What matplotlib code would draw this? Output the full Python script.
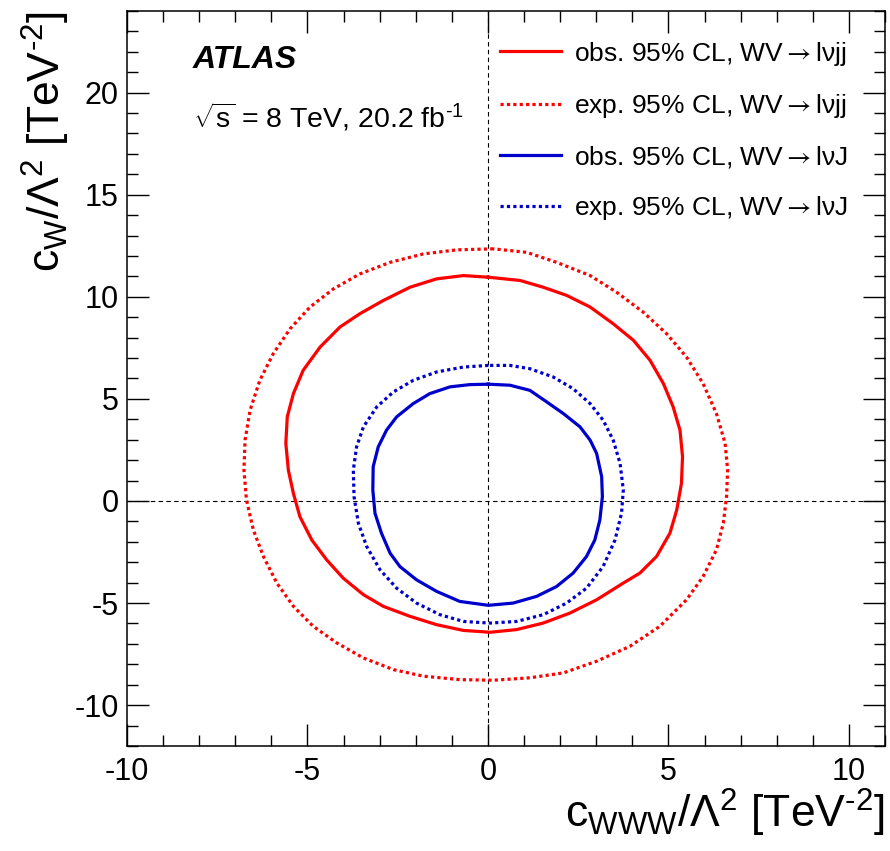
# ATLAS WV -> lvjj / lvJ: 95% CL contours in the (c_WWW, c_W) plane
import numpy as np
import matplotlib.pyplot as plt
from matplotlib.ticker import MultipleLocator

plt.rcParams['font.family'] = ['Liberation Sans', 'DejaVu Sans']
plt.rcParams['axes.unicode_minus'] = False
plt.rcParams['mathtext.fontset'] = 'custom'
plt.rcParams['mathtext.rm'] = 'Liberation Sans'
plt.rcParams['mathtext.it'] = 'Liberation Sans:italic'
plt.rcParams['mathtext.sf'] = 'STIXGeneral'

# contour points (c_WWW, c_W) in TeV^-2
obs_jj_x = [0.01, -0.68, -1.42, -2.16, -2.90, -3.55, -4.10, -4.65, -5.12, -5.39, -5.56, -5.60,
            -5.53, -5.39, -5.21, -4.88, -4.47, -4.01, -3.45, -2.90, -2.16, -1.42, -0.68, 0.06,
            0.79, 1.53, 2.27, 3.01, 3.75, 4.21, 4.67, 5.04, 5.23, 5.36, 5.39, 5.32, 5.13, 4.86,
            4.49, 4.03, 3.47, 2.83, 2.18, 1.53, 0.89]
obs_jj_y = [10.96, 11.04, 10.88, 10.47, 9.82, 9.17, 8.52, 7.54, 6.40, 5.26, 4.12, 2.82,
            1.51, 0.37, -0.77, -1.91, -2.88, -3.78, -4.59, -5.16, -5.65, -6.06, -6.34, -6.43,
            -6.30, -5.98, -5.49, -4.84, -4.02, -3.53, -2.72, -1.58, -0.44, 0.86, 2.17, 3.47, 4.61, 5.75,
            6.89, 7.87, 8.68, 9.50, 10.07, 10.47, 10.80]

exp_jj_x = [0.15, -0.87, -1.79, -2.71, -3.55, -4.28, -4.93, -5.48, -5.95, -6.32, -6.59, -6.73,
            -6.76, -6.69, -6.50, -6.22, -5.85, -5.39, -4.84, -4.19, -3.45, -2.62, -1.79, -0.78,
            0.15, 1.16, 2.09, 3.01, 3.93, 4.76, 5.50, 5.96, 6.33, 6.52, 6.61, 6.64, 6.57, 6.33,
            5.96, 5.50, 4.95, 4.30, 3.56, 2.83, 1.90, 1.07]
exp_jj_y = [12.35, 12.30, 12.10, 11.69, 11.12, 10.39, 9.50, 8.44, 7.21, 5.91, 4.45, 2.98,
            1.51, 0.05, -1.42, -2.72, -4.02, -5.16, -6.14, -6.95, -7.69, -8.26, -8.58, -8.75,
            -8.78, -8.66, -8.42, -7.85, -7.12, -6.14, -4.84, -3.70, -2.39, -1.09, 0.21, 1.51, 2.82, 4.28,
            5.75, 7.05, 8.19, 9.25, 10.23, 11.04, 11.69, 12.18]

obs_J_x = [0.01, -0.50, -1.05, -1.61, -2.07, -2.53, -2.81, -3.04, -3.18, -3.19, -3.13, -2.95,
           -2.71, -2.44, -1.98, -1.42, -0.78, 0.01, 0.70, 1.35, 1.90, 2.36, 2.73, 2.96,
           3.10, 3.17, 3.15, 3.01, 2.83, 2.55, 2.09, 1.63, 1.16, 0.61]
obs_J_y = [5.72, 5.70, 5.59, 5.26, 4.77, 4.12, 3.47, 2.65, 1.68, 0.54, -0.60, -1.58,
           -2.56, -3.21, -3.86, -4.43, -4.92, -5.11, -5.00, -4.67, -4.19, -3.53, -2.72, -1.91,
           -0.93, 0.21, 1.19, 2.33, 2.98, 3.63, 4.28, 4.85, 5.42, 5.67]

exp_J_x = [0.01, -0.68, -1.42, -2.07, -2.62, -3.08, -3.45, -3.64, -3.73, -3.71, -3.59, -3.36,
           -2.99, -2.53, -1.98, -1.33, -0.68, 0.06, 0.79, 1.53, 2.18, 2.73, 3.19, 3.52,
           3.70, 3.75, 3.66, 3.47, 3.19, 2.83, 2.36, 1.81, 1.16, 0.61]
exp_J_y = [6.64, 6.56, 6.32, 5.91, 5.34, 4.61, 3.63, 2.65, 1.51, 0.21, -1.09, -2.23,
           -3.37, -4.27, -5.00, -5.57, -5.90, -5.98, -5.90, -5.57, -5.00, -4.27, -3.21, -1.91,
           -0.60, 0.54, 1.84, 2.98, 3.96, 4.77, 5.50, 6.07, 6.48, 6.64]

arrow = r'$\mathsf{\rightarrow}$'
labels = ['obs. 95% CL, WV' + arrow + 'lνjj', 'exp. 95% CL, WV' + arrow + 'lνjj',
          'obs. 95% CL, WV' + arrow + 'lνJ', 'exp. 95% CL, WV' + arrow + 'lνJ']


def closed(a):
    return list(a) + [a[0]]


fig = plt.figure(figsize=(8.9, 8.51), dpi=100)
ax = fig.add_axes([0.1427, 0.1234, 0.8517, 0.8637])

ax.axhline(0, color='black', lw=0.8, dashes=(4, 3), zorder=1)
ax.axvline(0, color='black', lw=0.8, dashes=(4, 3), zorder=1)

dot = (0, (1.0, 1.0))
kw = dict(lw=2.3, solid_joinstyle='round', dash_joinstyle='round')
ax.plot(closed(obs_jj_x), closed(obs_jj_y), color='#ff0000', label=labels[0], **kw)
ax.plot(closed(exp_jj_x), closed(exp_jj_y), color='#ff0000', ls=dot, label=labels[1], **kw)
ax.plot(closed(obs_J_x), closed(obs_J_y), color='#0000cc', label=labels[2], **kw)
ax.plot(closed(exp_J_x), closed(exp_J_y), color='#0000cc', ls=dot, label=labels[3], **kw)

ax.set_xlim(-10, 11)
ax.set_ylim(-12, 24)
ax.xaxis.set_major_locator(MultipleLocator(5))
ax.xaxis.set_minor_locator(MultipleLocator(1))
ax.yaxis.set_major_locator(MultipleLocator(5))
ax.yaxis.set_minor_locator(MultipleLocator(1))
ax.tick_params(which='both', direction='in', top=True, right=True, width=1.0)
ax.tick_params(which='major', length=16, labelsize=22)
ax.tick_params(which='minor', length=8)
ax.tick_params(axis='x', pad=8)
ax.tick_params(axis='y', pad=6)
for s in ax.spines.values():
    s.set_linewidth(1.1)

ax.set_xlabel(r'$\mathregular{c_{WWW}/\Lambda^{2}\ [TeV^{\text{-}2}]}$', fontsize=32,
              loc='right', labelpad=0)
ax.set_ylabel(r'$\mathregular{c_{W}/\Lambda^{2}\ [TeV^{\text{-}2}]}$', fontsize=32,
              loc='top', labelpad=2)

ax.text(0.087, 0.933, 'ATLAS', transform=ax.transAxes, fontsize=23,
        fontweight='bold', fontstyle='italic', va='center', ha='left')
ax.text(0.087, 0.856, r'$\mathregular{\sqrt{s}}$ = 8 TeV, 20.2 fb$^{\mathregular{\text{-}1}}$',
        transform=ax.transAxes, fontsize=20.5, va='center', ha='left')

ax.legend(loc='upper left', bbox_to_anchor=(0.492, 0.961), frameon=False, fontsize=19,
          handlelength=2.3, handletextpad=0.5, labelspacing=0.92, borderpad=0, borderaxespad=0)

fig.savefig('out.png', dpi=100)
